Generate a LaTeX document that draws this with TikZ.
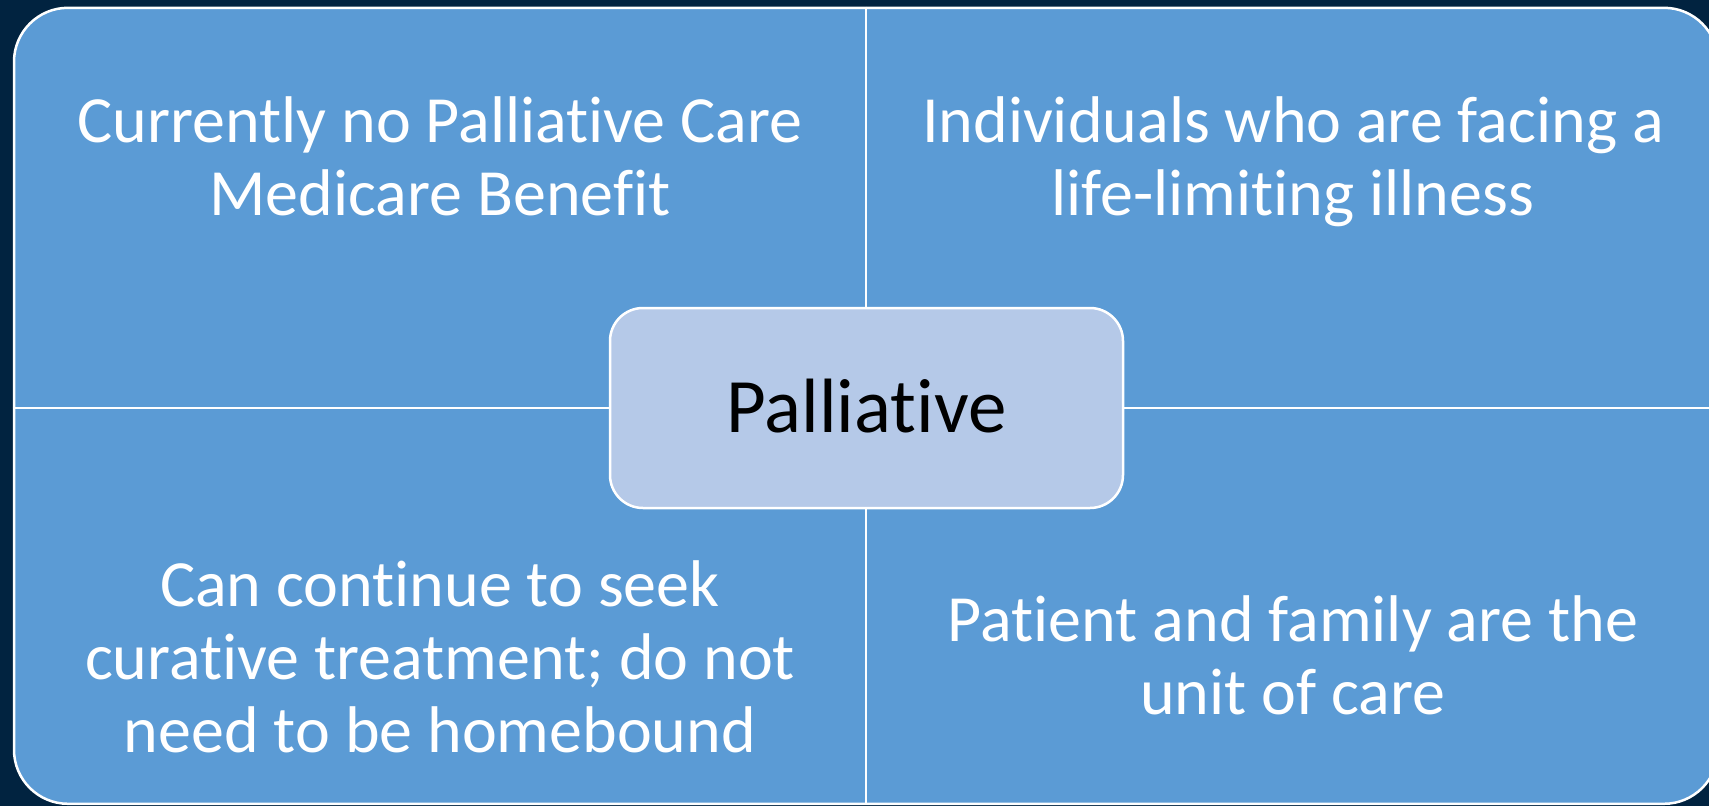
\documentclass[tikz,border=0pt]{standalone}
\usepackage{fontspec}
\setmainfont[Ligatures={NoCommon}]{Carlito}
\definecolor{navy}{RGB}{1,35,64}
\definecolor{quadblue}{RGB}{91,155,213}
\definecolor{hubfill}{RGB}{181,201,232}
\tikzset{
  quadtext/.style={text=white, align=center, inner sep=0pt, anchor=north,
    font=\fontsize{66}{73}\selectfont},
  divider/.style={draw=white, line width=2.5pt},
}
\begin{document}
\begin{tikzpicture}[x=1pt,y=-1pt]
\path[use as bounding box, fill=navy] (0,0) rectangle (1709,806);
\clip (0,0) rectangle (1709,806);
\node[draw=white, line width=2.5pt, fill=quadblue, rounded corners=54pt,
      minimum width=1704pt, minimum height=796pt, inner sep=0pt]
      (frame) at (866,405.8) {};
\coordinate (hubpos) at (866.5,408);
\draw[divider] (frame.north) -- (frame.south);
\draw[divider] (frame.west |- hubpos) -- (frame.east |- hubpos);
\node[draw=white, line width=2.5pt, fill=hubfill, rounded corners=33pt, inner sep=0pt,
      minimum width=513pt, minimum height=200pt] (hub) at (hubpos) {};
\node[anchor=base, inner sep=0pt, font=\fontsize{77}{85}\selectfont, text=black]
      (hubtext) at (866.5,432.7) {Palliative};
\node[quadtext] (q1) at (440,91) {\strut Currently no Palliative Care\\Medicare Benefit};
\node[quadtext] (q2) at (1293,91) {\strut Individuals who are facing a\\life-limiting illness};
\node[quadtext] (q3) at (440,555) {\strut Can continue to seek\\curative treatment; do not\\need to be homebound};
\node[quadtext] (q4) at (1293,590) {\strut Patient and family are the\\unit of care};
\end{tikzpicture}
\end{document}
